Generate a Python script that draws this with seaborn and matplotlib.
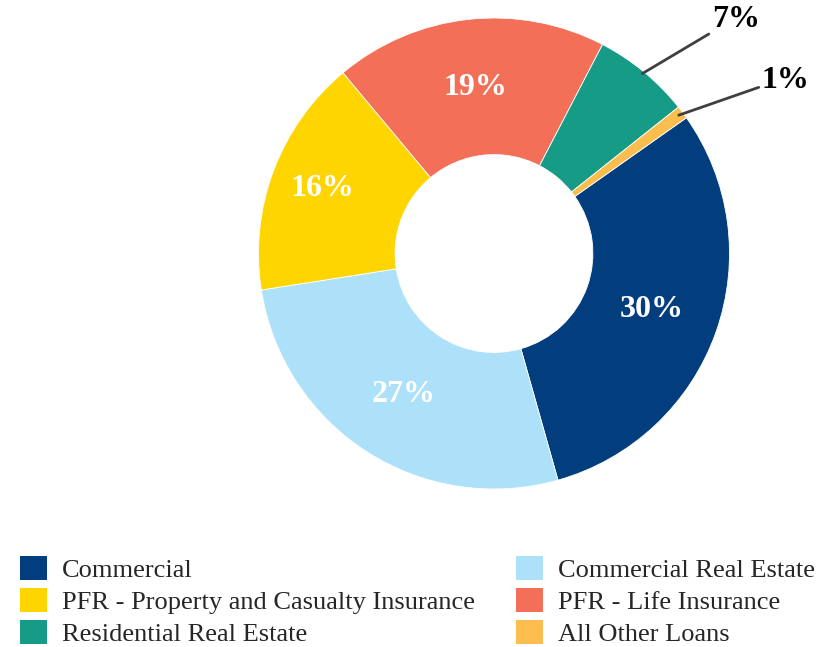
import numpy as np
import matplotlib
matplotlib.use("Agg")
import matplotlib.pyplot as plt
from matplotlib.patches import Patch
import seaborn as sns

# loan portfolio mix, clockwise from the top-right
categories = [
    "Commercial",
    "Commercial Real Estate",
    "PFR - Property and Casualty Insurance",
    "PFR - Life Insurance",
    "Residential Real Estate",
    "All Other Loans",
]
shares = [30.4, 26.9, 16.4, 18.7, 6.7, 0.9]
colors = ["#023e7d", "#ade1fa", "#ffd500", "#f36f57", "#169b86", "#fbbd4e"]

sns.set_theme(style="white")
plt.rcParams["font.family"] = ["Liberation Serif", "DejaVu Serif"]

fig = plt.figure(figsize=(8.26, 6.47), dpi=100)
W, H = 826, 647
cx, cy, R = 494, 253.5, 235.5
ax = fig.add_axes([(cx - R) / W, 1 - (cy + R) / H, 2 * R / W, 2 * R / H])

wedges, _, autotexts = ax.pie(
    shares,
    colors=colors,
    startangle=35.2,
    counterclock=False,
    autopct=lambda p: f"{p:.0f}%" if p >= 10 else "",
    pctdistance=0.71,
    radius=1.0,
    wedgeprops=dict(width=0.58, edgecolor="white", linewidth=0.6),
    textprops=dict(color="white", fontsize=23, fontweight="bold"),
)
ax.set_xlim(-1, 1)
ax.set_ylim(-1, 1)
ax.set_aspect("equal")
ax.axis("off")

# the yellow slice label sits a bit further out
w = wedges[2]
ang = np.deg2rad((w.theta1 + w.theta2) / 2)
autotexts[2].set_position((0.78 * np.cos(ang), 0.78 * np.sin(ang)))

# small slices get labels outside with leader lines
outside = {
    4: dict(r0=0.99, xytext=(0.926, 0.934), ha="left", va="bottom", rel=(0, 0.05)),
    5: dict(r0=0.98, xytext=(1.138, 0.735), ha="left", va="center", rel=(0, 0.3)),
}
for i, opt in outside.items():
    w = wedges[i]
    ang = np.deg2rad((w.theta1 + w.theta2) / 2)
    ax.annotate(
        f"{shares[i]:.0f}%",
        xy=(opt["r0"] * np.cos(ang), opt["r0"] * np.sin(ang)),
        xytext=opt["xytext"],
        ha=opt["ha"], va=opt["va"],
        fontsize=23, fontweight="bold", color="black",
        annotation_clip=False,
        arrowprops=dict(arrowstyle="-", color="#404040", lw=2,
                        relpos=opt["rel"], shrinkA=0, shrinkB=0),
    )

# legend filled row-wise: reorder for matplotlib's column-wise fill
order = [0, 2, 4, 1, 3, 5]
handles = [Patch(facecolor=colors[i], edgecolor="none") for i in order]
labels = [categories[i] for i in order]
fig.legend(
    handles, labels,
    ncol=2,
    loc="upper left",
    bbox_to_anchor=(20 / W, 1 - 556 / H),
    frameon=False,
    fontsize=19,
    handlelength=1.02,
    handleheight=1.02,
    handletextpad=0.57,
    columnspacing=1.55,
    labelspacing=0.22,
    borderpad=0,
    borderaxespad=0,
)

fig.savefig("out.png", dpi=100)
